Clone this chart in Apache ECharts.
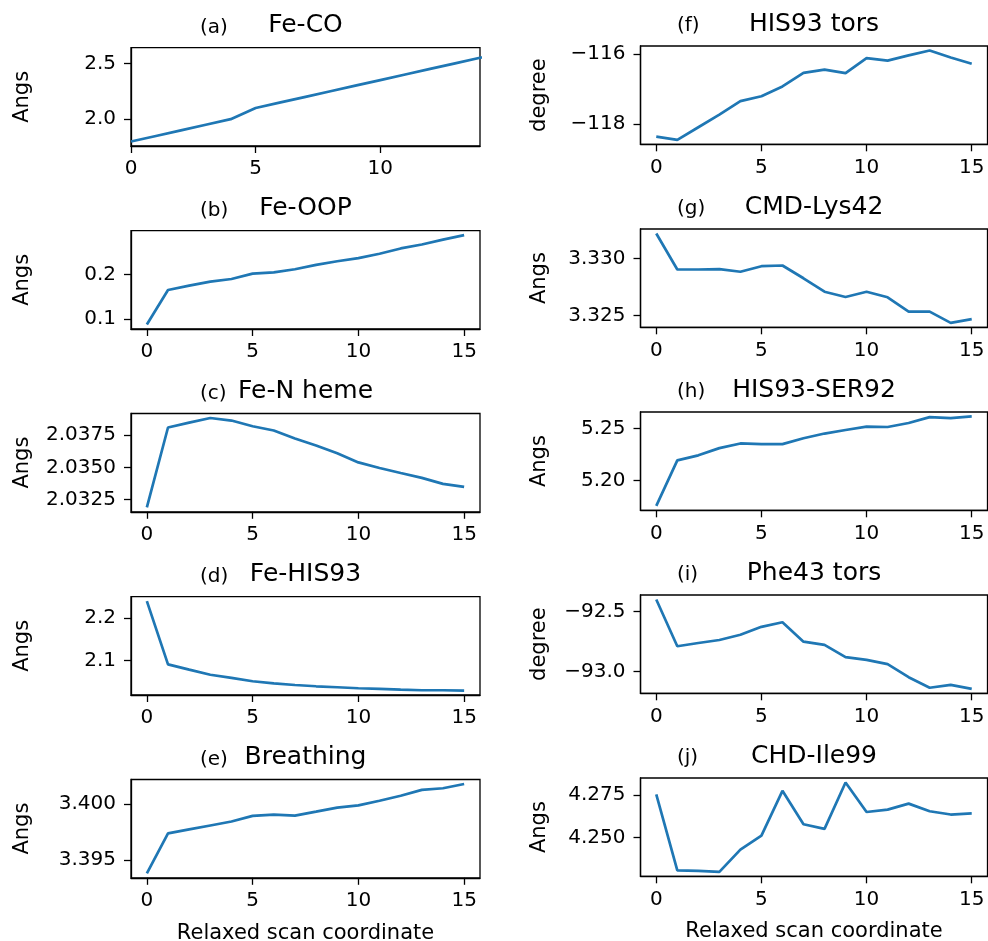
<!DOCTYPE html>
<html>
<head>
<meta charset="utf-8">
<script src="https://cdn.jsdelivr.net/npm/echarts@6/dist/echarts.min.js"></script>
<style>
html,body{margin:0;padding:0;background:#fff;}
#chart{width:988px;height:941px;}
</style>
</head>
<body>
<div id="chart"></div>
<script>
// ---- data ----
const scanCoord = [0,1,2,3,4,5,6,7,8,9,10,11,12,13,14,15];
const feCO      = [1.80,1.85,1.90,1.95,2.00,2.10,2.15,2.20,2.25,2.30,2.35,2.40,2.45,2.50,2.55,2.60];
const feOOP     = [0.087,0.165,0.175,0.184,0.190,0.202,0.205,0.212,0.222,0.230,0.237,0.247,0.259,0.268,0.279,0.289];
const feNHeme   = [2.03190,2.03808,2.03846,2.03882,2.03862,2.03818,2.03785,2.03723,2.03669,2.03608,2.03538,2.03495,2.03456,2.03418,2.03372,2.03349];
const feHIS93   = [2.239,2.0906,2.078,2.066,2.0586,2.0508,2.046,2.042,2.039,2.0367,2.0344,2.0328,2.031,2.0297,2.0297,2.029];
const breathing = [3.39382,3.39738,3.39774,3.39809,3.39844,3.39894,3.39906,3.39897,3.39932,3.39968,3.39988,3.40029,3.40074,3.40126,3.40141,3.40179];
const his93Tors = [-118.37,-118.46,-118.10,-117.74,-117.35,-117.21,-116.93,-116.54,-116.45,-116.55,-116.12,-116.19,-116.04,-115.90,-116.10,-116.28];
const cmdLys42  = [3.33218,3.32902,3.32902,3.32905,3.32882,3.32931,3.32937,3.32825,3.32707,3.32661,3.32707,3.32658,3.32532,3.32532,3.32434,3.32466];
const his93Ser92= [5.1759,5.2196,5.2244,5.2313,5.2358,5.2351,5.2351,5.2408,5.2453,5.2487,5.2519,5.2516,5.2554,5.2611,5.2601,5.2617];
const phe43Tors = [-92.401,-92.791,-92.764,-92.739,-92.695,-92.629,-92.591,-92.753,-92.780,-92.882,-92.904,-92.940,-93.049,-93.137,-93.113,-93.146];
const chdIle99  = [4.2754,4.2308,4.2306,4.2300,4.2430,4.2512,4.2775,4.2579,4.2552,4.2824,4.2651,4.2665,4.2700,4.2655,4.2636,4.2643];

// tick values and labels
const xTicks      = [0,5,10,15];
const xTicksFeCO  = [0,5,10];
const yTicksA = [2.0,2.5];          const yLabelsA = ['2.0','2.5'];
const yTicksB = [0.1,0.2];          const yLabelsB = ['0.1','0.2'];
const yTicksC = [2.0325,2.035,2.0375]; const yLabelsC = ['2.0325','2.0350','2.0375'];
const yTicksD = [2.1,2.2];          const yLabelsD = ['2.1','2.2'];
const yTicksE = [3.395,3.4];        const yLabelsE = ['3.395','3.400'];
const yTicksF = [-118,-116];        const yLabelsF = ['\u2212118','\u2212116'];
const yTicksG = [3.325,3.33];       const yLabelsG = ['3.325','3.330'];
const yTicksH = [5.2,5.25];         const yLabelsH = ['5.20','5.25'];
const yTicksI = [-93,-92.5];        const yLabelsI = ['\u221293.0','\u221292.5'];
const yTicksJ = [4.25,4.275];       const yLabelsJ = ['4.250','4.275'];

const tags   = ['(a)','(b)','(c)','(d)','(e)','(f)','(g)','(h)','(i)','(j)'];
const titles = ['Fe-CO','Fe-OOP','Fe-N heme','Fe-HIS93','Breathing','HIS93 tors','CMD-Lys42','HIS93-SER92','Phe43 tors','CHD-Ile99'];
const yNames = ['Angs','Angs','Angs','Angs','Angs','degree','Angs','Angs','degree','Angs'];
const xName  = 'Relaxed scan coordinate';

const series = [feCO,feOOP,feNHeme,feHIS93,breathing,his93Tors,cmdLys42,his93Ser92,phe43Tors,chdIle99];
const yT = [yTicksA,yTicksB,yTicksC,yTicksD,yTicksE,yTicksF,yTicksG,yTicksH,yTicksI,yTicksJ];
const yL = [yLabelsA,yLabelsB,yLabelsC,yLabelsD,yLabelsE,yLabelsF,yLabelsG,yLabelsH,yLabelsI,yLabelsJ];

// ---- layout ----
const FONT = 'DejaVu Sans';
const TICK_FS = 20;
const colLeft = [131, 640.5];
const gridWs = [349, 347];
const gridH = 98.3;
const topsL = [47.7, 230.7, 413.5, 596.7, 779.5];
const topsR = [46, 229, 412, 595, 778];
const tagX = [200, 677];
const yNameGap = [98, 90.5];

const grids=[], xAxes=[], yAxes=[], ser=[], graphics=[];
for (let i=0;i<10;i++){
  const col = i<5?0:1, row = i%5;
  const top = col===0?topsL[row]:topsR[row];
  const left = colLeft[col];
  const gridW = gridWs[col];
  grids.push({left:left, top:top, width:gridW, height:gridH, show:true, borderColor:'#000', borderWidth:1.3,
    backgroundColor:'transparent', containLabel:false, outerBoundsMode:'none'});
  const d = series[i];
  const lo = Math.min(...d), hi = Math.max(...d), m = (hi-lo)*0.05;
  const isA = i===0;
  const xt = isA?xTicksFeCO:xTicks;
  const xmin = isA?0:-0.75, xmax = isA?14:15.75;
  xAxes.push({
    type:'value', gridIndex:i, min:xmin, max:xmax,
    axisLine:{show:true,onZero:false,lineStyle:{color:'#000',width:1.3}},
    axisTick:{show:true,length:7,lineStyle:{color:'#000',width:1.3},customValues:xt},
    axisLabel:{show:true,customValues:xt,margin:13,color:'#000',fontFamily:FONT,fontSize:TICK_FS,formatter:v=>String(v)},
    splitLine:{show:false},
    name:(row===4?xName:''), nameLocation:'middle', nameGap:45,
    nameTextStyle:{color:'#000',fontFamily:FONT,fontSize:21}
  });
  const ticks = yT[i], labs = yL[i];
  yAxes.push({
    type:'value', gridIndex:i, min:lo-m, max:hi+m, scale:true,
    axisLine:{show:true,onZero:false,lineStyle:{color:'#000',width:1.3}},
    axisTick:{show:true,length:7,lineStyle:{color:'#000',width:1.3},customValues:ticks},
    axisLabel:{show:true,customValues:ticks,margin:15,color:'#000',fontFamily:FONT,fontSize:TICK_FS,
      formatter:function(v){let k=0,b=Infinity;ticks.forEach((t,j)=>{const dd=Math.abs(t-v);if(dd<b){b=dd;k=j;}});return labs[k];}},
    splitLine:{show:false},
    name:yNames[i], nameLocation:'middle', nameGap:yNameGap[col], nameRotate:90,
    nameTextStyle:{color:'#000',fontFamily:FONT,fontSize:21}
  });
  ser.push({
    type:'line', xAxisIndex:i, yAxisIndex:i, showSymbol:false, symbol:'none', clip:true,
    lineStyle:{color:'#1f77b4',width:2.7}, animation:false,
    data: scanCoord.map((x,j)=>[x,d[j]])
  });
  graphics.push({type:'text', x:tagX[col], y:top-20, style:{text:tags[i], fill:'#000', fontSize:20, fontFamily:FONT, textAlign:'left', textVerticalAlign:'middle'}});
  graphics.push({type:'text', x:left+gridW/2, y:top-22, style:{text:titles[i], fill:'#000', fontSize:25, fontFamily:FONT, textAlign:'center', textVerticalAlign:'middle'}});
}

const chart = echarts.init(document.getElementById('chart'), null, {renderer:'canvas'});
chart.setOption({
  backgroundColor:'#fff',
  animation:false,
  grid:grids, xAxis:xAxes, yAxis:yAxes, series:ser, graphic:graphics
});
</script>
</body>
</html>
